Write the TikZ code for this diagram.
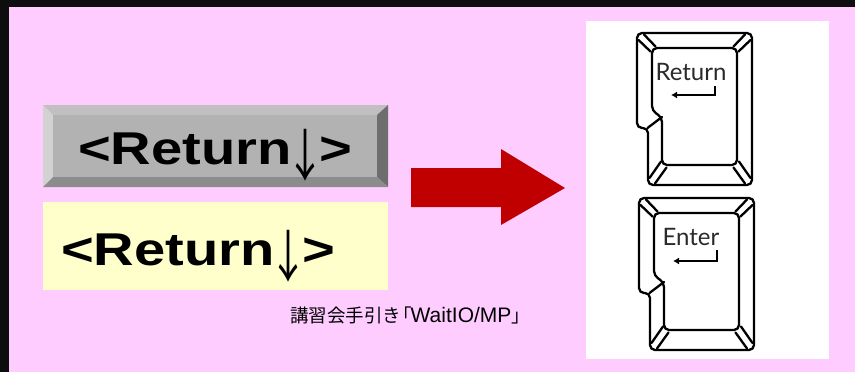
\documentclass[tikz,border=0pt]{standalone}
\usepackage{fontspec}
\setmainfont{Liberation Sans}
\newfontfamily\cjkfont{Noto Sans CJK JP}
\newfontfamily\keyfont{Lato}
\usetikzlibrary{arrows.meta}
\definecolor{bgpink}{HTML}{FFCCFF}
\definecolor{paleyellow}{HTML}{FFFFCC}
\definecolor{arrowred}{HTML}{C00000}
\definecolor{face}{HTML}{B2B2B2}
\definecolor{bevtop}{HTML}{C0C0C0}
\definecolor{bevleft}{HTML}{D2D2D2}
\definecolor{bevright}{HTML}{6E6E6E}
\definecolor{bevbot}{HTML}{8C8C8C}
\definecolor{keytext}{HTML}{2A2A2A}
\newcommand{\bigreturn}{\scalebox{1.22}[1]{<Return}\kern-6pt{\cjkfont\mdseries\raisebox{-17pt}{\resizebox{40pt}{52pt}{\raisebox{\depth}{↓}}}}\kern-6pt\scalebox{1.22}[1]{>}}
\tikzset{
  bigtext/.style={font=\bfseries\fontsize{46}{50}\selectfont, inner sep=0pt},
  keyline/.style={line width=2.3pt, line join=round, line cap=round},
  keylabel/.style={font=\keyfont\fontsize{24}{26}\selectfont, text=keytext, inner sep=0pt},
  keyarrow/.style={line width=1.8pt, -{Latex[length=6pt,width=7pt]}},
  keycap/.pic={
    \draw[keyline, fill=white, rounded corners=5pt]
      (0,0) -- (115,0) -- (115,152) -- (11,152) -- (11,95) -- (0,95) -- cycle;
    \draw[keyline, rounded corners=5pt]
      (15,15) -- (100,15) -- (100,132) -- (25,132) -- (25,84) -- (15,78) -- cycle;
    \draw[keyline] (1.5,7) -- (13.5,18.5) (7,1.5) -- (18.5,13.5);
    \draw[keyline] (108,1.5) -- (96.5,13.5) (113.5,7) -- (101.5,18.5);
    \draw[keyline] (113.5,145) -- (102,128.5) (108,150.5) -- (96.5,134.5);
    \draw[keyline] (12.5,145) -- (24,128.5) (18,150.5) -- (29.5,134.5);
    \draw[keyline] (10.5,95) -- (25,84);
  }
}
\begin{document}
\begin{tikzpicture}[x=1pt,y=-1pt]
\useasboundingbox (0,0) rectangle (855,372);
% background
\fill[black!95] (0,0) rectangle (855,372);
\fill[bgpink] (9,7) rectangle (855,372);
% grey bevelled button
\fill[bevtop] (43,105) -- (388,105) -- (377,115) -- (53,115) -- cycle;
\fill[bevleft] (43,105) -- (53,115) -- (53,177) -- (43,187) -- cycle;
\fill[bevright] (388,105) -- (388,187) -- (377,177) -- (377,115) -- cycle;
\fill[bevbot] (43,187) -- (388,187) -- (377,177) -- (53,177) -- cycle;
\fill[face] (53,115) rectangle (377,177);
\node[bigtext, anchor=base west] (greytext) at (78,164) {\bigreturn};
% yellow box
\fill[paleyellow] (43,202) rectangle (388,290);
\node[bigtext, anchor=base west] (yellowtext) at (61,265) {\bigreturn};
% red block arrow
\fill[arrowred] (411,168) -- (501,168) -- (501,149) -- (565,188) -- (501,225) -- (501,207) -- (411,207) -- cycle;
% caption
\node[anchor=west, inner sep=0pt] (caption) at (290,315)
  {\cjkfont\fontsize{18.5}{20}\selectfont 講習会手引き\kern-8pt「\kern-1pt\normalfont\fontsize{21}{22}\selectfont WaitIO/MP\cjkfont\fontsize{18.5}{20}\selectfont 」};
% white panel with keys
\fill[white] (586,21) rectangle (829,359);
\pic at (637,33) {keycap};
\pic at (639,198) {keycap};
\node[keylabel] (returnlbl) at (691,72) {Return};
\coordinate (ra1) at (715,86);
\coordinate (ra2) at (715,95);
\coordinate (ra3) at (671,95);
\draw[keyarrow] (ra1) -- (ra2) -- (ra3);
\node[keylabel] (enterlbl) at (691,237) {Enter};
\coordinate (ea1) at (717,250);
\coordinate (ea2) at (717,261);
\coordinate (ea3) at (673,261);
\draw[keyarrow] (ea1) -- (ea2) -- (ea3);
\end{tikzpicture}
\end{document}
